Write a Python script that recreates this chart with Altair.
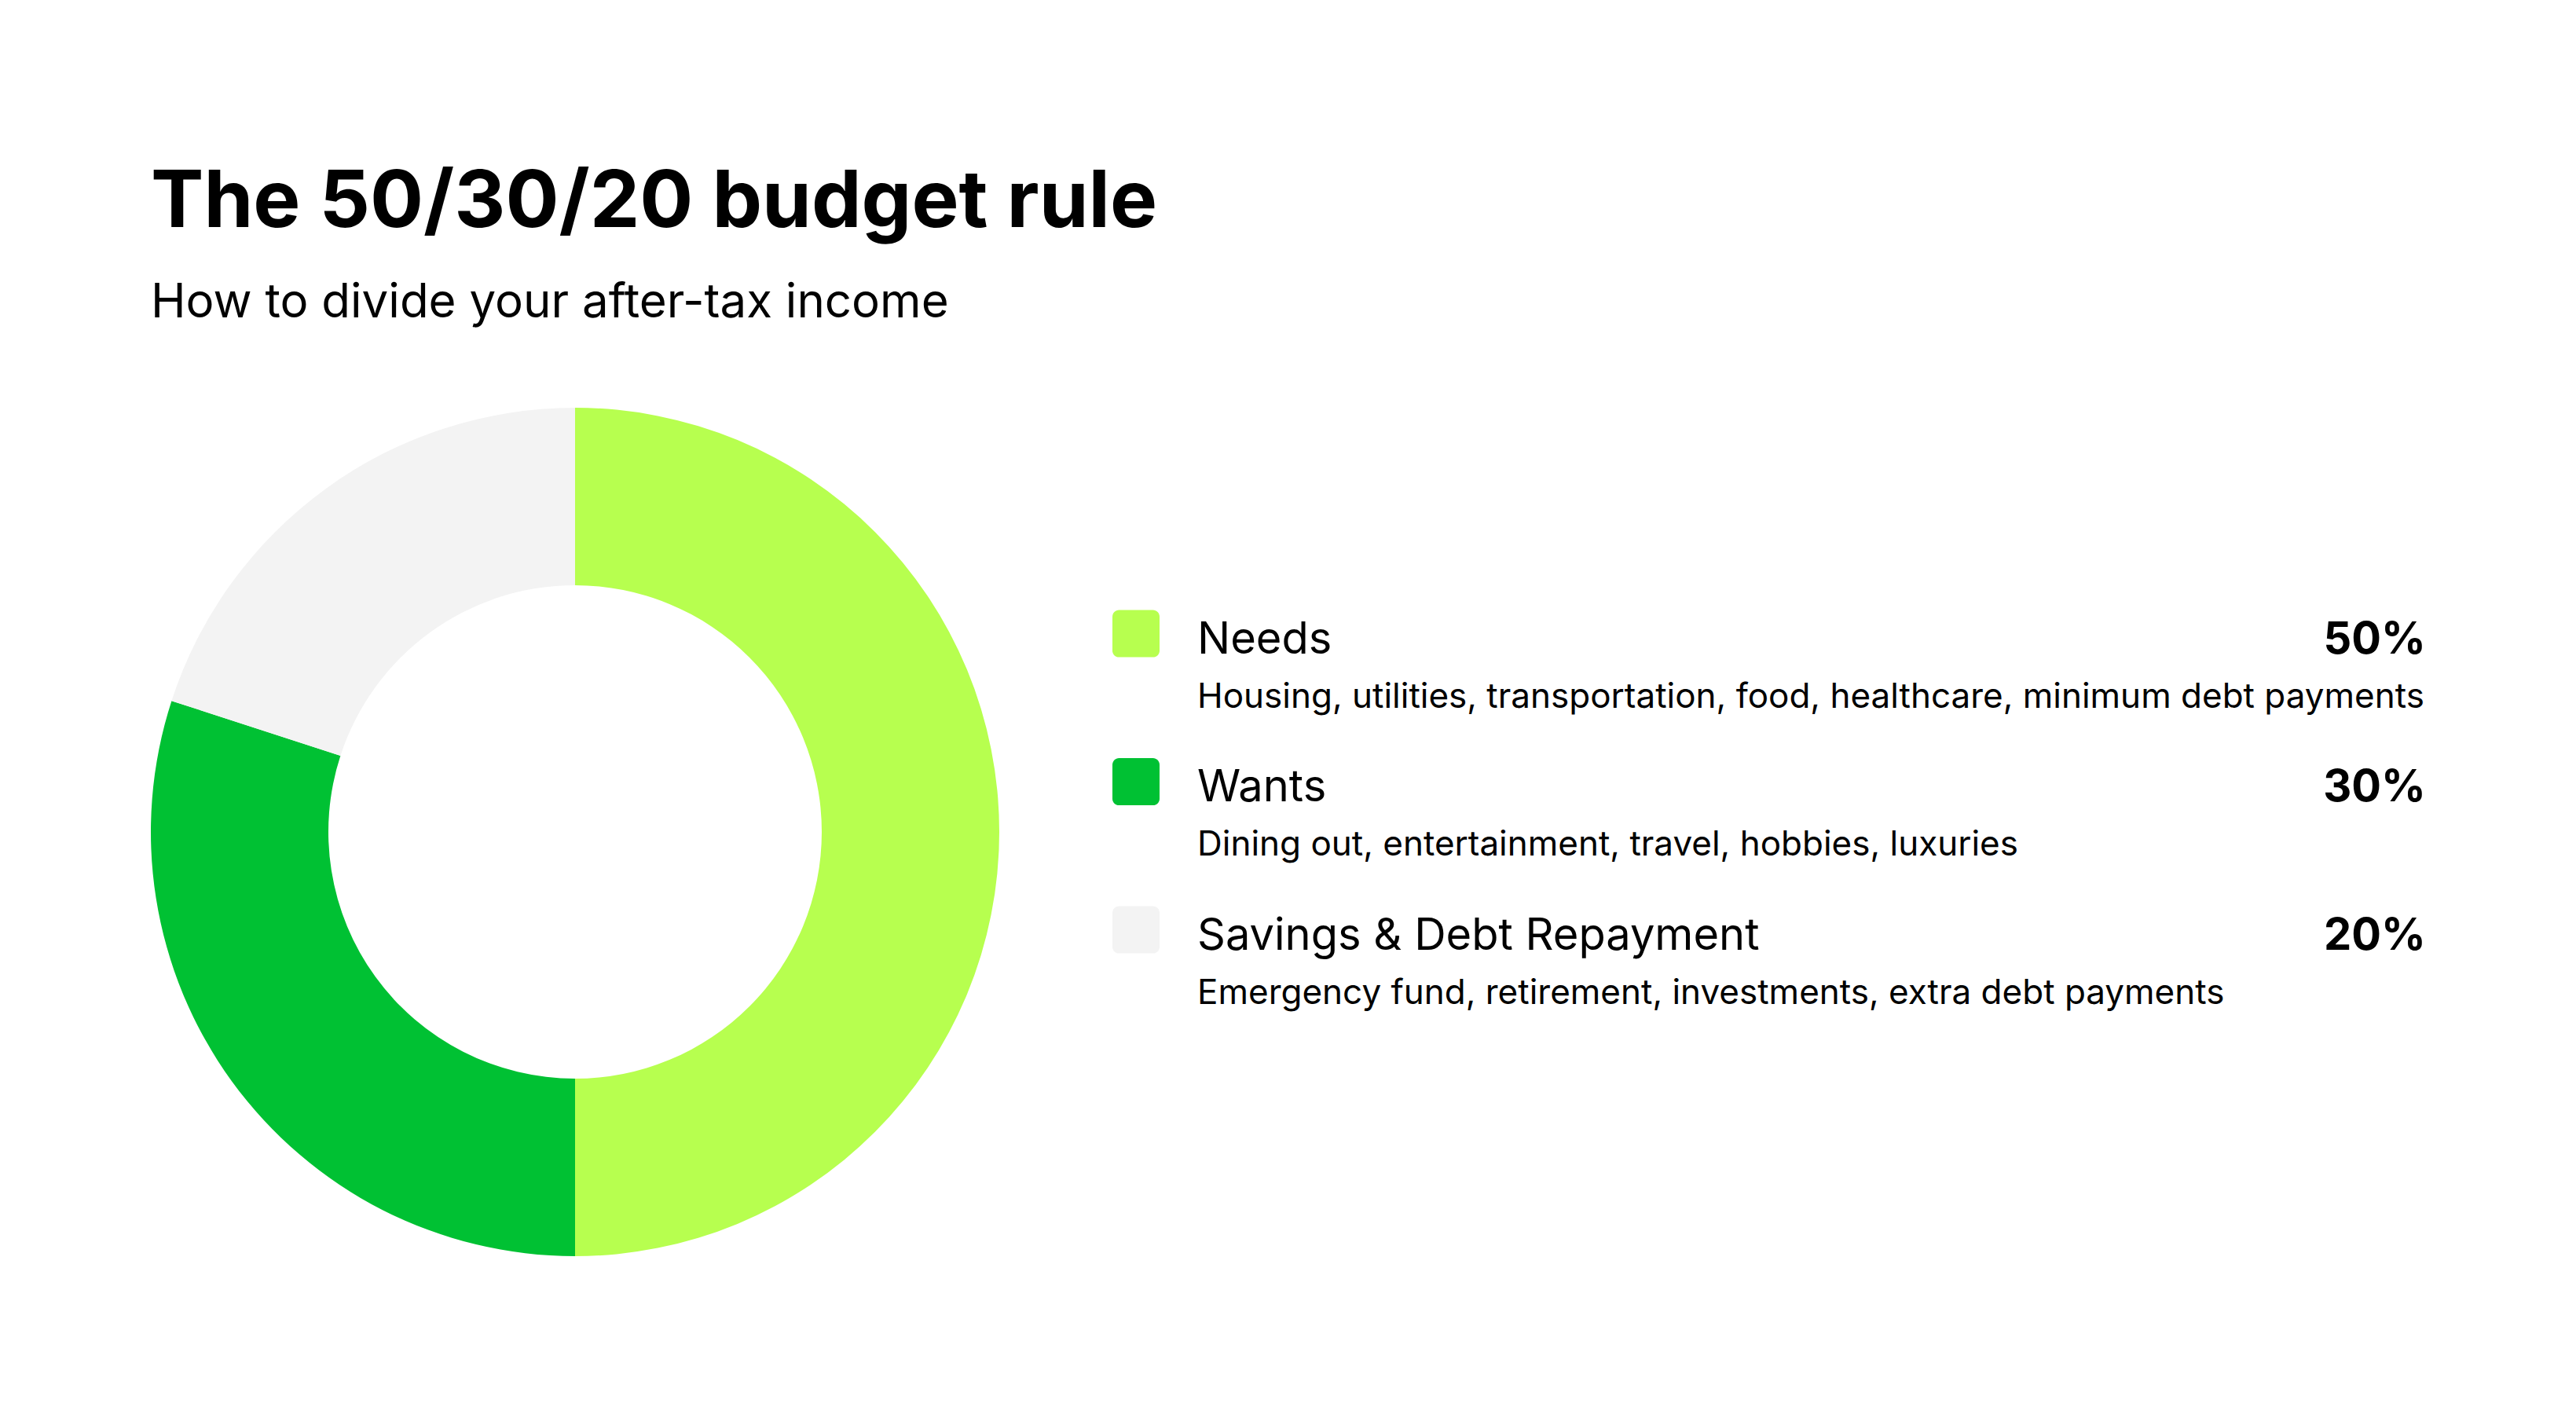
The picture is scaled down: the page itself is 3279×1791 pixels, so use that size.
import altair as alt
import pandas as pd

categories = ["Needs", "Wants", "Savings & Debt Repayment"]
shares = [50, 30, 20]
descriptions = [
    "Housing, utilities, transportation, food, healthcare, minimum debt payments",
    "Dining out, entertainment, travel, hobbies, luxuries",
    "Emergency fund, retirement, investments, extra debt payments",
]
colors = ["#B7FF4F", "#00C133", "#F3F3F3"]

df = pd.DataFrame({
    "category": categories,
    "share": shares,
    "description": descriptions,
    "order": list(range(len(categories))),
    "pct": [f"{v}%" for v in shares],
})

FONT = "Inter"
color_scale = alt.Scale(domain=categories, range=colors)

donut = alt.Chart(df).mark_arc(radius=540, innerRadius=314, stroke=None).encode(
    theta=alt.Theta("share:Q", stack=True),
    color=alt.Color("category:N", scale=color_scale, legend=None),
    order=alt.Order("order:Q"),
).properties(width=1080, height=1080)

# rows laid out top-down by their index
ycat = alt.Y("order:Q", scale=alt.Scale(domain=[-1.568, 3.567], reverse=True,
                                        zero=False, nice=False), axis=None)

rounded = ("M-0.72,-1 H0.72 A0.28,0.28 0 0 1 1,-0.72 V0.72 A0.28,0.28 0 0 1 0.72,1 "
           "H-0.72 A0.28,0.28 0 0 1 -1,0.72 V-0.72 A0.28,0.28 0 0 1 -0.72,-1 Z")

base = alt.Chart(df)
swatches = base.mark_point(shape=rounded, size=3600, filled=True, opacity=1,
                           strokeWidth=0, yOffset=-8).encode(
    x=alt.value(31), y=ycat,
    color=alt.Color("category:N", scale=color_scale, legend=None),
)
labels = base.mark_text(align="left", baseline="middle", font=FONT,
                        fontSize=56, color="#000000").encode(
    x=alt.value(109), y=ycat, text="category:N")
pcts = base.mark_text(align="right", baseline="middle", font=FONT,
                      fontSize=56, fontWeight="bold", color="#000000").encode(
    x=alt.value(1673), y=ycat, text="pct:N")
descs = base.mark_text(align="left", baseline="middle", font=FONT,
                       fontSize=44, color="#000000", dy=73).encode(
    x=alt.value(109), y=ycat, text="description:N")

legend = alt.layer(swatches, labels, pcts, descs).properties(width=1669, height=968)

chart = alt.hconcat(donut, legend, spacing=143).properties(
    title=alt.TitleParams(
        text="The 50/30/20 budget rule",
        subtitle="How to divide your after-tax income",
        anchor="start",
        font=FONT, fontSize=101, fontWeight="bold", color="#000000",
        subtitleFont=FONT, subtitleFontSize=60, subtitleFontWeight="normal",
        subtitleColor="#000000", subtitlePadding=47, offset=102,
    ),
    padding={"left": 184, "top": 200, "right": 20, "bottom": 20},
    background="#FFFFFF",
).configure_view(stroke=None).configure_concat(spacing=143)

chart.save("out.html", embed_options={"renderer": "svg", "actions": False})
